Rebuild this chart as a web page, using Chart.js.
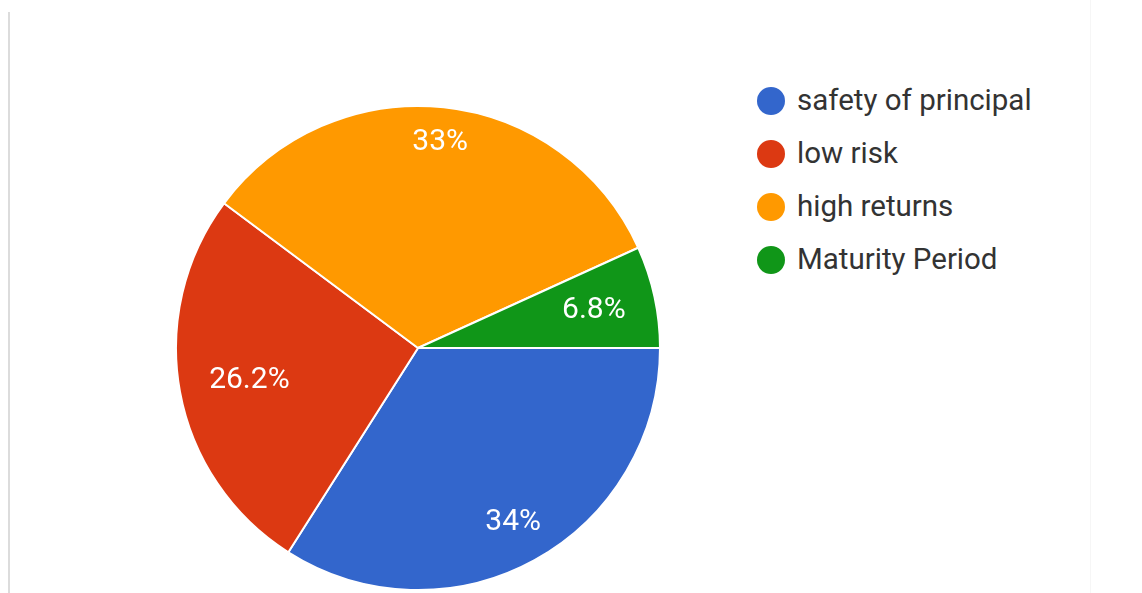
<!DOCTYPE html>
<html>
<head>
<meta charset="utf-8">
<script src="https://cdn.jsdelivr.net/npm/chart.js@4"></script>
<style>
  html, body { margin: 0; padding: 0; background: #fff; }
  body { width: 1142px; height: 593px; position: relative; overflow: hidden; font-family: Roboto, "Noto Sans", sans-serif; }
  #frame { position: absolute; left: 8px; top: 12px; width: 2px; height: 600px; background: #dcdcdc; }
  #frame-r { position: absolute; left: 1090px; top: 0; width: 1px; height: 600px; background: #f6f6f6; }
  #wrap { position: absolute; left: 173px; top: 103px; width: 490px; height: 490px; }
  #legend { position: absolute; left: 757px; top: 83px; margin: 0; padding: 0; list-style: none; }
  #legend li { height: 53px; display: flex; align-items: flex-start; font-size: 29.5px; color: #333; }
  #legend .dot { width: 28px; height: 28px; border-radius: 50%; margin: 4px 12px 0 0; flex: none; }
</style>
</head>
<body>
<div id="frame"></div>
<div id="frame-r"></div>
<div id="wrap"><canvas id="pie-objetivos"></canvas></div>
<ul id="legend"></ul>
<script>
// objetivos de inversión (porcentaje de respuestas)
const categorias = ["safety of principal", "low risk", "high returns", "Maturity Period"];
const porcentajes = [34, 26.2, 33, 6.8];
const etiquetas = ["34%", "26.2%", "33%", "6.8%"];
const colores = ["#3366cc", "#dc3912", "#ff9900", "#109618"];

// leyenda
const legend = document.getElementById("legend");
categorias.forEach((c, i) => {
  const li = document.createElement("li");
  li.innerHTML = '<span class="dot" style="background:' + colores[i] + '"></span>' + c;
  legend.appendChild(li);
});

// texto de porcentaje dentro de cada sector
const etiquetasPie = {
  id: "etiquetasPie",
  afterDatasetsDraw(chart) {
    const ctx = chart.ctx;
    const meta = chart.getDatasetMeta(0);
    ctx.save();
    ctx.font = "30px Roboto";
    ctx.fillStyle = "#ffffff";
    ctx.textAlign = "center";
    ctx.textBaseline = "middle";
    meta.data.forEach((arc, i) => {
      const p = arc.getProps(["x", "y", "startAngle", "endAngle", "outerRadius"], true);
      const a = (p.startAngle + p.endAngle) / 2;
      const w = ctx.measureText(etiquetas[i]).width;
      const d = 0.872 * p.outerRadius - (w / 2) * Math.abs(Math.cos(a));
      ctx.fillText(etiquetas[i], p.x + Math.cos(a) * d, p.y + Math.sin(a) * d + 1);
    });
    ctx.restore();
  },
};

new Chart(document.getElementById("pie-objetivos"), {
  type: "pie",
  data: {
    labels: categorias,
    datasets: [
      {
        data: porcentajes,
        backgroundColor: colores,
        borderColor: "#ffffff",
        borderWidth: 2,
      },
    ],
  },
  options: {
    responsive: true,
    maintainAspectRatio: false,
    animation: false,
    rotation: 90,
    layout: { padding: 2 },
    plugins: {
      legend: { display: false },
      tooltip: { enabled: false },
    },
  },
  plugins: [etiquetasPie],
});
</script>
</body>
</html>
